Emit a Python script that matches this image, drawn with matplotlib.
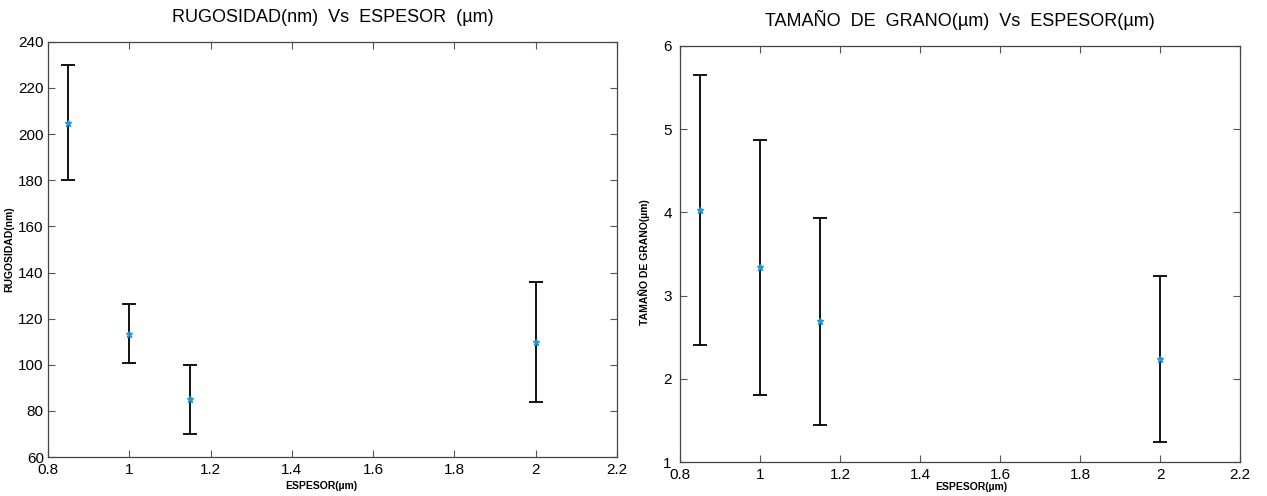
import numpy as np
import matplotlib.pyplot as plt

plt.rcParams['font.family'] = ['Liberation Sans Narrow', 'Liberation Sans', 'DejaVu Sans']

# Datos
espesor = [0.85, 1.0, 1.15, 2.0]
rugosidad = [205, 113.5, 85, 110]
rug_err = [25, 12.7, 15, 26]
grano = [4.03, 3.34, 2.69, 2.24]
grano_err = [1.62, 1.53, 1.24, 1.0]

x_ticks = [0.8, 1, 1.2, 1.4, 1.6, 1.8, 2, 2.2]
x_labels = ['0.8', '1', '1.2', '1.4', '1.6', '1.8', '2', '2.2']

fig = plt.figure(figsize=(12.67, 4.96), dpi=100)
ax1 = fig.add_axes([0.0379, 0.0786, 0.449, 0.837])
ax2 = fig.add_axes([0.5367, 0.0685, 0.442, 0.839])


def estilo(ax, y, yerr, yticks, ylim, titulo, ylabel):
    ax.errorbar(espesor, y, yerr=yerr, fmt='none', ecolor='black',
                elinewidth=1.3, capsize=5, capthick=1.3)
    ax.plot(espesor, y, '*', color='#1a9be0', markersize=5)
    ax.set_xlim(0.8, 2.2)
    ax.set_ylim(*ylim)
    ax.set_xticks(x_ticks)
    ax.set_xticklabels(x_labels)
    ax.set_yticks(yticks)
    ax.tick_params(direction='in', top=True, right=True, length=5,
                   labelsize=11, color='#555555')
    ax.tick_params(axis='x', pad=4)
    ax.tick_params(axis='y', pad=3)
    for s in ax.spines.values():
        s.set_color('#444444')
        s.set_linewidth(0.9)
    ax.set_title(titulo, fontsize=13, pad=14)
    ax.set_xlabel('ESPESOR(µm)', fontsize=7.5, fontweight='bold')
    ax.set_ylabel(ylabel, fontsize=7.5, fontweight='bold')


estilo(ax1, rugosidad, rug_err, range(60, 241, 20), (60, 240),
       'RUGOSIDAD(nm)  Vs  ESPESOR  (µm)', 'RUGOSIDAD(nm)')
ax1.xaxis.set_label_coords(0.48, -0.058)
ax1.yaxis.set_label_coords(-0.06, 0.5)
estilo(ax2, grano, grano_err, range(1, 7), (1, 6),
       'TAMAÑO  DE  GRANO(µm)  Vs  ESPESOR(µm)', 'TAMAÑO DE GRANO(µm)')
ax2.tick_params(axis='y', pad=6)
ax2.xaxis.set_label_coords(0.52, -0.048)
ax2.yaxis.set_label_coords(-0.054, 0.48)

fig.savefig('out.png', dpi=100)
